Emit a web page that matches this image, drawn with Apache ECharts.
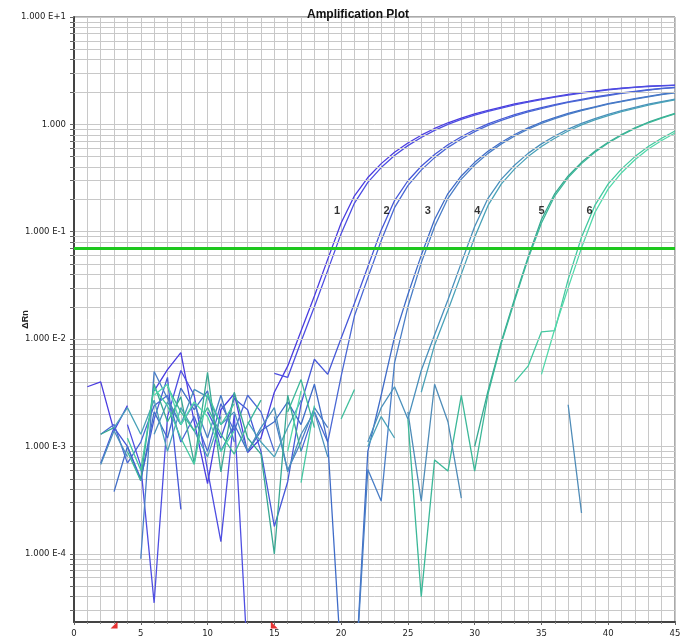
<!DOCTYPE html>
<html>
<head>
<meta charset="utf-8">
<script src="https://cdn.jsdelivr.net/npm/echarts@6/dist/echarts.min.js"></script>
<style>
  html, body { margin: 0; padding: 0; background: #fff; }
  #chart { width: 688px; height: 644px; }
</style>
</head>
<body>
<div id="chart"></div>
<script>
// cycle numbers on the x axis
var cycles = [1, 2, 3, 4, 5, 6, 7, 8, 9, 10, 11, 12, 13, 14, 15, 16, 17, 18, 19, 20,
  21, 22, 23, 24, 25, 26, 27, 28, 29, 30, 31, 32, 33, 34, 35, 36, 37, 38, 39, 40,
  41, 42, 43, 44, 45];

// delta Rn per well, one value per cycle (null = negative, not drawn on log axis)
var well1a = [0.0036, 0.0040, 0.0014, 0.0024, null, 0.0033, 0.0052, 0.0075, 0.0017, 0.00045,
  0.0022, 0.0031, 0.00088, 0.0012, 0.0032, 0.0056, 0.0119, 0.0252, 0.0556, 0.1205,
  0.216, 0.320, 0.431, 0.550, 0.670, 0.793, 0.916, 1.035, 1.143, 1.253,
  1.352, 1.449, 1.552, 1.637, 1.728, 1.816, 1.901, 1.975, 2.044, 2.116,
  2.173, 2.223, 2.265, 2.293, 2.320];
var well1b = [null, null, null, 0.0016, 0.00066, 0.000035, 0.0019, 0.0051, 0.0030, 0.0006,
  0.00013, 0.0020, 0.00001, null, 0.0048, 0.0044, 0.0095, 0.020, 0.0437, 0.096,
  0.185, 0.288, 0.396, 0.513, 0.634, 0.755, 0.879, 1.000, 1.112, 1.219,
  1.324, 1.419, 1.521, 1.614, 1.698, 1.791, 1.875, 1.954, 2.023, 2.094,
  2.158, 2.208, 2.254, 2.286, 2.312];
var well2a = [null, 0.0007, 0.0015, 0.0010, 0.0005, 0.0018, 0.0044, 0.00026, null, 0.0021,
  0.0012, 0.0028, 0.0022, 0.0009, 0.00018, 0.00047, 0.0025, 0.0065, 0.0047, 0.0102,
  0.0216, 0.0473, 0.1035, 0.195, 0.2985, 0.407, 0.525, 0.646, 0.767, 0.891,
  1.012, 1.122, 1.230, 1.334, 1.429, 1.531, 1.622, 1.708, 1.799, 1.884,
  1.961, 2.030, 2.101, 2.163, 2.213];
var well2b = [null, 0.0013, 0.0016, 0.0007, 0.0011, 0.0024, 0.0030, 0.0011, 0.0019, 0.0009,
  0.0025, 0.0014, 0.0030, 0.0021, 0.0009, null, 0.0009, 0.0021, 0.0011, 0.0045,
  0.0165, 0.0372, 0.0824, 0.1675, 0.269, 0.375, 0.490, 0.611, 0.731, 0.855,
  0.977, 1.091, 1.197, 1.306, 1.400, 1.500, 1.600, 1.679, 1.774, 1.858,
  1.941, 2.009, 2.080, 2.148, 2.198];
var well3a = [null, null, 0.00038, 0.0010, 0.00048, 0.0021, 0.0012, 0.0035, 0.0022, 0.0033,
  0.0009, 0.0016, 0.0009, 0.0014, 0.0017, 0.0026, 0.0016, 0.0038, 0.0011, 0.00001,
  0.000005, 0.0009, 0.0030, 0.0105, 0.026, 0.0603, 0.130, 0.227, 0.331, 0.443,
  0.562, 0.682, 0.805, 0.929, 1.047, 1.153, 1.265, 1.361, 1.459, 1.563,
  1.644, 1.738, 1.824, 1.910, 1.982];
var well3b = [null, null, null, null, 0.00009, 0.0050, 0.0028, 0.0016, 0.0025, 0.0012,
  0.0030, 0.0011, null, null, 0.0019, 0.0006, 0.0011, 0.0023, 0.0015, null,
  0.000005, 0.00061, 0.00031, 0.0060, 0.020, 0.0513, 0.1117, 0.205, 0.309, 0.419,
  0.537, 0.658, 0.780, 0.904, 1.023, 1.132, 1.242, 1.343, 1.439, 1.542,
  1.629, 1.718, 1.807, 1.892, 1.968];
var well4a = [null, 0.00068, 0.0014, 0.0008, null, 0.0013, 0.0026, 0.0016, 0.0034, 0.0029,
  0.0016, 0.0021, 0.0009, 0.0015, 0.0023, 0.00058, 0.0013, 0.0021, 0.0008, null,
  null, 0.0011, 0.0023, 0.0036, 0.0018, 0.0051, 0.0110, 0.0233, 0.0513, 0.1117,
  0.205, 0.309, 0.419, 0.537, 0.658, 0.780, 0.904, 1.023, 1.132, 1.242,
  1.343, 1.439, 1.542, 1.629, 1.718];
var well4b = [null, null, 0.0015, 0.0023, 0.0013, 0.0027, 0.0009, 0.0023, 0.0014, 0.0008,
  0.0019, null, 0.0017, 0.0011, 0.0008, 0.0015, 0.0027, null, null, null,
  null, 0.0010, 0.0019, 0.0012, null, 0.0032, 0.00883, 0.0186, 0.0403, 0.0889,
  0.176, 0.279, 0.385, 0.501, 0.622, 0.743, 0.867, 0.989, 1.102, 1.208,
  1.315, 1.409, 1.510, 1.607, 1.689];
var well5a = [null, 0.0013, 0.0015, null, 0.0005, 0.0038, 0.0017, 0.0029, 0.0007, 0.0049,
  0.00058, 0.0032, 0.0012, 0.00085, 0.0001, 0.0030, 0.0009, null, null, null,
  null, null, null, null, null, null, null, null, null, 0.0010,
  0.0033, 0.0095, 0.024, 0.058, 0.130, 0.227, 0.331, 0.443, 0.562, 0.682,
  0.805, 0.929, 1.047, 1.153, 1.265];
var well5b = [null, null, null, 0.0009, 0.00048, null, 0.0036, 0.0021, 0.0014, 0.0023,
  0.0013, 0.00085, 0.0016, 0.0027, null, 0.0021, 0.0042, 0.0015, null, null,
  null, null, null, null, 0.0018, 0.00004, 0.00075, 0.00059, 0.0030, 0.00059,
  0.0031, 0.0092, 0.023, 0.056, 0.1205, 0.216, 0.320, 0.431, 0.550, 0.670,
  0.793, 0.916, 1.035, 1.143, 1.253];
var well6a = [null, null, null, 0.0012, 0.0006, 0.0035, 0.0024, 0.0012, 0.00068, 0.0031,
  0.0016, 0.0025, null, 0.0012, null, null, 0.00046, 0.0024, null, null,
  null, null, null, null, null, null, null, null, null, null,
  null, null, 0.0040, 0.0056, 0.0117, 0.0120, 0.036, 0.0889, 0.176, 0.279,
  0.385, 0.501, 0.622, 0.743, 0.867];
var well6b = [null, null, null, null, null, 0.0030, 0.0038, 0.0016, 0.0026, 0.0019,
  0.0009, 0.0014, null, null, null, 0.0009, 0.0033, null, null, null,
  null, null, null, null, null, null, null, null, null, null,
  null, null, null, null, 0.0047, 0.0125, 0.030, 0.0708, 0.151, 0.251,
  0.355, 0.468, 0.589, 0.708, 0.832];
var wellNtc1 = [null, null, null, null, null, null, null, null, null, null,
  null, null, null, null, null, null, null, null, null, null,
  null, null, null, null, 0.0021, 0.00031, 0.0038, 0.0017, 0.00033, null,
  null, null, null, null, null, null, 0.00245, 0.00024, null, null,
  null, null, null, null, null];
var wellNtc2 = [null, null, null, null, null, null, null, null, null, null,
  null, null, null, null, null, null, null, null, null, 0.0018,
  0.0034, null, null, null, null, null, null, null, null, null,
  null, null, null, null, null, null, null, null, null, null,
  null, null, null, null, null];

var wells = [well1a, well1b, well2a, well2b, well3a, well3b, well4a, well4b,
  well5a, well5b, well6a, well6b, wellNtc1, wellNtc2];
var wellColors = ['#4a3ce0', '#4e4ee2', '#4658d8', '#4a68d4', '#3f6cc8', '#4a7ec6',
  '#4a90bc', '#4aa2b8', '#38a892', '#3cb898', '#44c8a0', '#52d8aa', '#4f8cb8', '#3fbf9c'];

var thresholdValue = 0.0708;

// dilution labels placed above the threshold
var curveLabelNames = ['1', '2', '3', '4', '5', '6'];
var curveLabelCycles = [19.7, 23.4, 26.5, 30.2, 35.0, 38.6];
var curveLabelLevel = 0.155;

// baseline start / end markers
var baselineCycles = [3, 15];

var yMin = 2.32e-5, yMax = 10;
var yLabelValues = [1e-4, 1e-3, 1e-2, 1e-1, 1, 10];
var yLabelTexts = ['1.000 E-4', '1.000 E-3', '1.000 E-2', '1.000 E-1', '1.000', '1.000 E+1'];

// log grid: 1..9 x each decade
var yGridValues = [];
for (var e = -5; e <= 1; e++) {
  for (var m = 1; m <= 9; m++) {
    var v = m * Math.pow(10, e);
    if (v >= yMin && v <= yMax * 1.0001) yGridValues.push(v);
  }
}
var yMinorValues = yGridValues.filter(function (v) {
  return yLabelValues.every(function (p) { return Math.abs(v / p - 1) > 1e-6; });
});

function yLabel(v) {
  for (var i = 0; i < yLabelValues.length; i++) {
    if (Math.abs(v / yLabelValues[i] - 1) < 1e-6) return yLabelTexts[i];
  }
  return '';
}

var chart = echarts.init(document.getElementById('chart'), null, { renderer: 'canvas' });

var series = [];

// minor horizontal log grid
series.push({
  type: 'line', data: [], z: 1, silent: true,
  markLine: {
    silent: true, symbol: ['none', 'none'], animation: false,
    label: { show: false },
    lineStyle: { color: '#c8c8c8', width: 1, type: 'solid' },
    data: yMinorValues.map(function (v) { return { yAxis: v }; })
  }
});

wells.forEach(function (w, i) {
  series.push({
    type: 'line',
    z: 3,
    symbol: 'none',
    clip: true,
    connectNulls: false,
    lineStyle: { color: wellColors[i], width: 1.3 },
    itemStyle: { color: wellColors[i] },
    data: cycles.map(function (c, j) { return [c, w[j] === null ? '-' : w[j]]; })
  });
});

// threshold line
series.push({
  type: 'line', data: [], z: 4, silent: true,
  markLine: {
    silent: true, symbol: ['none', 'none'], animation: false,
    label: { show: false },
    lineStyle: { color: '#1ec81e', width: 3, type: 'solid' },
    data: [{ yAxis: thresholdValue }]
  }
});

// dilution numbers
series.push({
  type: 'scatter', z: 5, symbolSize: 0, silent: true,
  label: {
    show: true, position: 'inside', color: '#000', fontSize: 11, fontWeight: 'bold',
    fontFamily: 'Liberation Sans',
    formatter: function (p) { return p.data[2]; }
  },
  data: curveLabelCycles.map(function (c, i) { return [c, curveLabelLevel, curveLabelNames[i]]; })
});

// red baseline markers
series.push({
  type: 'scatter', z: 6, clip: false, silent: true,
  symbolSize: 7, symbolOffset: [0, 3],
  itemStyle: { color: '#e00000' },
  data: [
    { value: [baselineCycles[0], yMin], symbol: 'path://M10,0 L10,10 L0,10 Z' },
    { value: [baselineCycles[1], yMin], symbol: 'path://M0,0 L0,10 L10,10 Z' }
  ]
});

var option = {
  animation: false,
  backgroundColor: '#fff',
  title: {
    text: 'Amplification Plot',
    left: 302, top: 4,
    textStyle: { fontSize: 12, fontWeight: 'bold', color: '#111', fontFamily: 'Liberation Sans' }
  },
  grid: {
    left: 74, right: 13, top: 17, bottom: 22,
    outerBoundsMode: 'none',
    show: true, borderColor: '#555', borderWidth: 1, backgroundColor: 'transparent'
  },
  xAxis: {
    type: 'value', min: 0, max: 45, interval: 5,
    axisLine: { show: true, onZero: false, lineStyle: { color: '#444', width: 2 } },
    axisTick: { show: true, length: 3, lineStyle: { color: '#666' } },
    minorTick: { show: true, splitNumber: 5, length: 2, lineStyle: { color: '#888' } },
    axisLabel: { fontSize: 8.5, fontFamily: 'DejaVu Sans', color: '#222', margin: 7 },
    splitLine: { show: true, lineStyle: { color: '#c8c8c8', width: 1 } },
    minorSplitLine: { show: true, lineStyle: { color: '#c8c8c8', width: 1 } }
  },
  yAxis: {
    type: 'log', logBase: 10, min: yMin, max: yMax,
    name: 'ΔRn', nameLocation: 'middle', nameGap: 44, nameRotate: 90,
    nameMoveOverlap: false,
    nameTextStyle: { fontSize: 9, fontWeight: 'bold', color: '#222', fontFamily: 'Liberation Sans' },
    axisLine: { show: true, lineStyle: { color: '#444', width: 2 } },
    axisTick: { show: true, length: 4, customValues: yGridValues, lineStyle: { color: '#666' } },
    axisLabel: {
      customValues: yLabelValues, formatter: yLabel,
      fontSize: 8.5, fontFamily: 'DejaVu Sans', color: '#222', margin: 8
    },
    splitLine: { show: true, lineStyle: { color: '#c8c8c8', width: 1 } }
  },
  series: series
};

chart.setOption(option);
</script>
</body>
</html>
